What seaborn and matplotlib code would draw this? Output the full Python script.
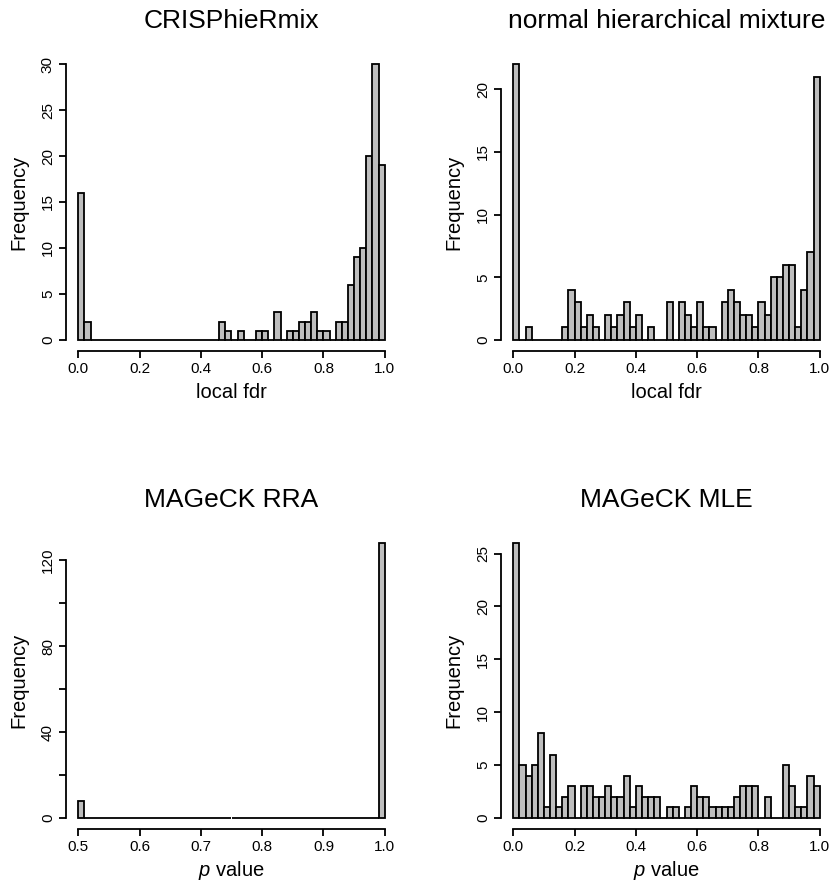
import numpy as np
import pandas as pd
import matplotlib
matplotlib.use("Agg")
import matplotlib.pyplot as plt
import seaborn as sns

# ---------------- data (histogram counts) ----------------
edges_fdr = [round(0.02 * k, 2) for k in range(51)]        # 50 bins of width 0.02
edges_rra = [round(0.5 + 0.01 * k, 2) for k in range(51)]  # 50 bins of width 0.01

crisphiermix_counts = [16, 2, 0, 0, 0, 0, 0, 0, 0, 0,
                       0, 0, 0, 0, 0, 0, 0, 0, 0, 0,
                       0, 0, 0, 2, 1, 0, 1, 0, 0, 1,
                       1, 0, 3, 0, 1, 1, 2, 2, 3, 1,
                       1, 0, 2, 2, 6, 9, 10, 20, 30, 19]

nhm_counts = [22, 0, 1, 0, 0, 0, 0, 0, 1, 4,
              3, 1, 2, 1, 0, 2, 1, 2, 3, 1,
              2, 0, 1, 0, 0, 3, 0, 3, 2, 1,
              3, 1, 1, 0, 3, 4, 3, 2, 2, 1,
              3, 2, 5, 5, 6, 6, 1, 4, 7, 21]

rra_counts = [8] + [0] * 48 + [128]

mle_counts = [26, 5, 4, 5, 8, 1, 6, 1, 2, 3,
              0, 3, 3, 2, 2, 3, 2, 2, 4, 1,
              3, 2, 2, 2, 0, 1, 1, 0, 1, 3,
              2, 2, 1, 1, 1, 1, 2, 3, 3, 3,
              0, 2, 0, 0, 5, 3, 1, 1, 4, 3]

titles = ["CRISPhieRmix", "normal hierarchical mixture", "MAGeCK RRA", "MAGeCK MLE"]
xlabels = ["local fdr", "local fdr", r"$p$ value", r"$p$ value"]
ylabel = "Frequency"

xticks_fdr = [0.0, 0.2, 0.4, 0.6, 0.8, 1.0]
xticks_rra = [0.5, 0.6, 0.7, 0.8, 0.9, 1.0]
yticks = [
    ([0, 5, 10, 15, 20, 25, 30], ["0", "5", "10", "15", "20", "25", "30"]),
    ([0, 5, 10, 15, 20], ["0", "5", "10", "15", "20"]),
    ([0, 20, 40, 60, 80, 100, 120], ["0", "", "40", "", "80", "", "120"]),
    ([0, 5, 10, 15, 20, 25], ["0", "5", "10", "15", "20", "25"]),
]

# ---------------- style ----------------
sns.set_style("white")
plt.rcParams["font.family"] = ["Liberation Sans", "DejaVu Sans"]
plt.rcParams["mathtext.fontset"] = "custom"
plt.rcParams["mathtext.rm"] = "Liberation Sans"
plt.rcParams["mathtext.it"] = "Liberation Sans:italic"
for key in ["text.color", "axes.labelcolor", "xtick.color", "ytick.color",
            "axes.edgecolor"]:
    plt.rcParams[key] = "black"

W, H = 837, 890
fig = plt.figure(figsize=(W / 100, H / 100), dpi=100)

# axes boxes in pixels: left, right, top, bottom
boxes = [(66, 397, 53, 351), (501, 832, 53, 351),
         (66, 397, 532, 829), (501, 832, 532, 829)]

panels = [
    (crisphiermix_counts, edges_fdr, xticks_fdr),
    (nhm_counts, edges_fdr, xticks_fdr),
    (rra_counts, edges_rra, xticks_rra),
    (mle_counts, edges_fdr, xticks_fdr),
]

for i, ((counts, edges, xt), (l, r, t, b)) in enumerate(zip(panels, boxes)):
    ax = fig.add_axes([l / W, 1 - b / H, (r - l) / W, (b - t) / H])
    centers = [(edges[k] + edges[k + 1]) / 2 for k in range(len(edges) - 1)]
    df = pd.DataFrame({"value": centers, "count": counts})
    sns.histplot(data=df, x="value", weights="count", bins=list(edges), ax=ax,
                 color="#BEBEBE", edgecolor="black", linewidth=1.3,
                 alpha=1.0, stat="count")
    x0, x1 = edges[0], edges[-1]
    span = x1 - x0
    ymax = max(counts)
    ax.set_xlim(x0 - 0.04 * span, x1 + 0.04 * span)
    ax.set_ylim(-0.04 * ymax, 1.04 * ymax)

    ax.set_xticks(xt)
    ax.set_xticklabels([f"{v:.1f}" for v in xt])
    yt, ytl = yticks[i]
    ax.set_yticks(yt)
    ax.set_yticklabels(ytl, rotation=90, va="center")

    for s in ["top", "right"]:
        ax.spines[s].set_visible(False)
    ax.spines["left"].set_bounds(yt[0], yt[-1])
    ax.spines["bottom"].set_bounds(xt[0], xt[-1])
    for s in ["left", "bottom"]:
        ax.spines[s].set_linewidth(1.3)
        ax.spines[s].set_color("black")

    ax.tick_params(axis="both", direction="out", length=5, width=1.3,
                   labelsize=11, pad=3, colors="black", left=True, bottom=True)

    ax.set_title(titles[i], fontsize=19, pad=18, color="black")
    ax.set_xlabel(xlabels[i], fontsize=14.5, color="black")
    ax.set_ylabel(ylabel, fontsize=14.5, color="black")
    ax.xaxis.set_label_coords(0.5, -47 / (b - t))
    ax.xaxis.label.set_va("baseline")
    ax.yaxis.set_label_coords(-47 / (r - l), 0.5)
    ax.yaxis.label.set_va("center")

fig.savefig("out.png", dpi=100, facecolor="white")
